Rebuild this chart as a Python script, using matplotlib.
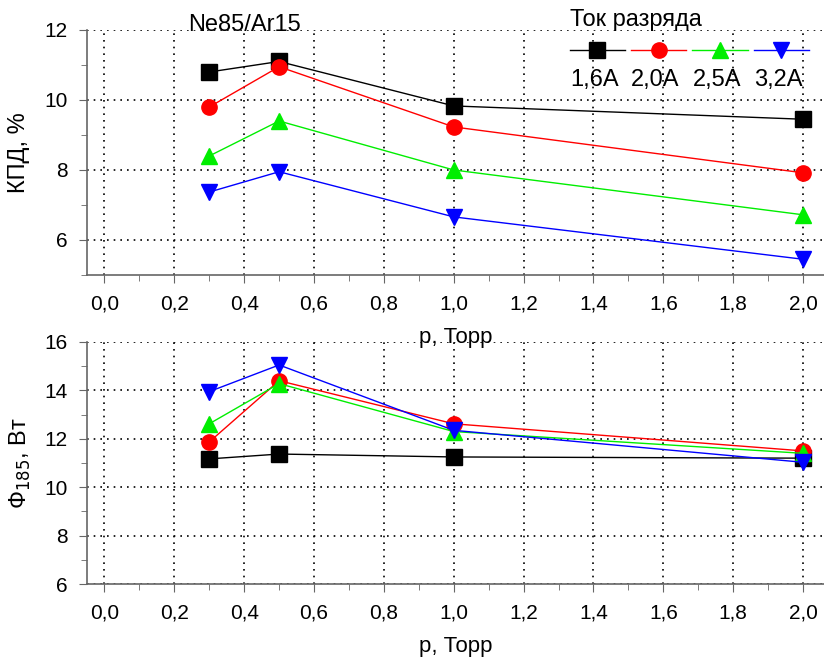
import matplotlib.pyplot as plt
from matplotlib.ticker import MultipleLocator, FuncFormatter

plt.rcParams['font.family'] = ['Liberation Sans', 'DejaVu Sans']

p = [0.3, 0.5, 1.0, 2.0]
currents = ['1,6A', '2,0A', '2,5A', '3,2A']
colors = ['black', 'red', '#00ee00', 'blue']
markers = ['s', 'o', '^', 'v']

# КПД, %
eff = [
    [10.8, 11.1, 9.83, 9.45],
    [9.8, 10.95, 9.23, 7.92],
    [8.4, 9.4, 8.0, 6.72],
    [7.37, 7.95, 6.66, 5.45],
]
# Ф185, Вт
flux = [
    [11.17, 11.37, 11.25, 11.2],
    [11.87, 14.4, 12.62, 11.5],
    [12.62, 14.28, 12.3, 11.4],
    [13.95, 15.05, 12.35, 11.03],
]

fig = plt.figure(figsize=(8.24, 6.62), dpi=100)
ax1 = fig.add_axes([0.1056, 0.5846, 0.8944, 0.3701])
ax2 = fig.add_axes([0.1056, 0.1178, 0.8944, 0.3656])
ax2.patch.set_alpha(0)

comma = FuncFormatter(lambda v, pos: ('%.1f' % v).replace('.', ','))

for ax, data in ((ax1, eff), (ax2, flux)):
    for i in range(4):
        ax.plot(p, data[i], color=colors[i], lw=1.0, marker=markers[i],
                ms=11, mec=colors[i], zorder=3)
    ax.set_xlim(-0.05, 2.06)
    ax.xaxis.set_major_locator(MultipleLocator(0.2))
    ax.xaxis.set_minor_locator(MultipleLocator(0.1))
    ax.xaxis.set_major_formatter(comma)
    ax.yaxis.set_major_locator(MultipleLocator(2))
    ax.yaxis.set_minor_locator(MultipleLocator(1))
    ax.grid(True, which='major', color='black', linestyle=(0, (1, 3)), lw=1.2)
    for s in ('top', 'right'):
        ax.spines[s].set_visible(False)
    for s in ('left', 'bottom'):
        ax.spines[s].set_color('#666666')
        ax.spines[s].set_linewidth(1.2)
    ax.tick_params(which='major', direction='out', length=6, color='#666666',
                   labelsize=15, pad=8)
    ax.tick_params(which='minor', direction='out', length=4, color='#666666')
    ax.set_xlabel('p, Торр', fontsize=16, labelpad=10)

ax1.set_ylim(5, 12)
ax1.set_yticks([6, 8, 10, 12])
ax2.set_ylim(6, 16)
ax1.set_ylabel('КПД, %', fontsize=17, labelpad=10)
ax2.set_ylabel('Ф$_{185}$, Вт', fontsize=17, labelpad=8)

ax1.text(0.214, 1.02, 'Ne85/Ar15', transform=ax1.transAxes, ha='center',
         va='center', fontsize=17)

# legend: markers in a row, labels below
leg = ax1.legend([plt.Line2D([], [], color=c, marker=m, ms=11, lw=1.0)
                  for c, m in zip(colors, markers)],
                 ['', '', '', ''], ncol=4, loc='upper left',
                 bbox_to_anchor=(0.655, 1.085), frameon=False,
                 prop={'size': 16}, handlelength=2.48, handletextpad=0.0,
                 columnspacing=0.28, borderpad=0.0, borderaxespad=0.0,
                 title='Ток разряда', title_fontsize=17, alignment='left')
lx = [0.689, 0.771, 0.855, 0.938]
for x, lab in zip(lx, currents):
    ax1.text(x, 0.796, lab, transform=ax1.transAxes, ha='center', va='center',
             fontsize=17)

fig.savefig('out.png', dpi=100)
